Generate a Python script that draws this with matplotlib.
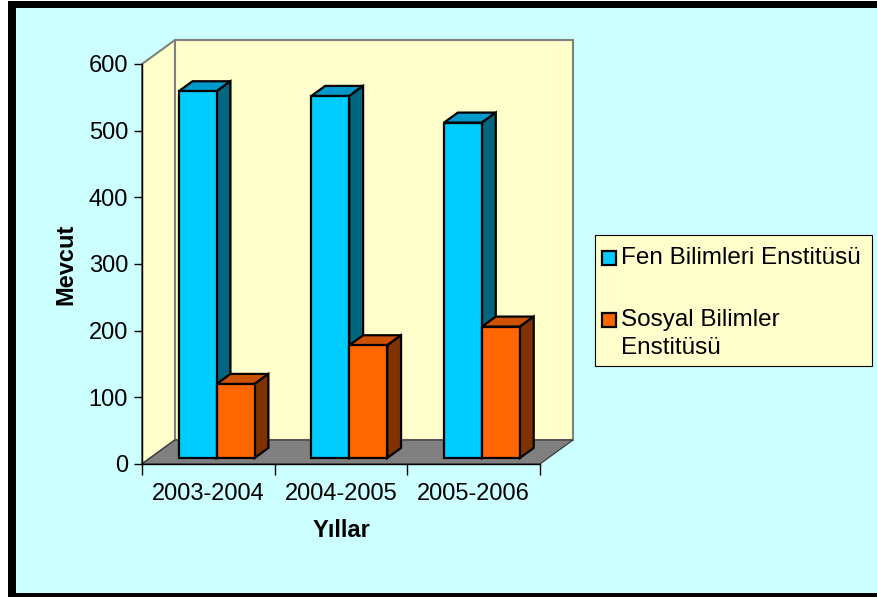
import numpy as np
import matplotlib
matplotlib.use('Agg')
import matplotlib.pyplot as plt
from matplotlib.patches import Polygon, Rectangle

plt.rcParams['font.family'] = ['Liberation Sans', 'DejaVu Sans']

# data
years = ['2003-2004', '2004-2005', '2005-2006']
series_names = ['Fen Bilimleri Enstitüsü', 'Sosyal Bilimler\nEnstitüsü']
fen = [550, 543, 503]
sosyal = [111, 169, 197]
y_ticks = [0, 100, 200, 300, 400, 500, 600]

# front / top / side colours per series
face_cols = [('#00CCFF', '#0099CC', '#006680'),
             ('#FF6600', '#CC5200', '#803300')]

W, H = 877, 597
fs = 17
fig = plt.figure(figsize=(W / 100, H / 100), dpi=100)
fig.patch.set_facecolor('white')


def fx(px):
    return px / W


def fy(py):
    return 1 - py / H


# frame of the chart area
fig.patches.append(Rectangle((fx(8), fy(597)), fx(W + 10) - fx(8), fy(1) - fy(597),
                             transform=fig.transFigure, facecolor='black', edgecolor='none', zorder=-3))
fig.patches.append(Rectangle((fx(16), fy(593)), fx(W + 10) - fx(16), fy(8) - fy(593),
                             transform=fig.transFigure, facecolor='#CCFFFF', edgecolor='none', zorder=-2))

# front plane of the 3d box
ax = fig.add_axes([fx(142), fy(464), fx(540) - fx(142), fy(64) - fy(464)])
ax.set_zorder(1)
ax.set_xlim(0, 3)
ax.set_ylim(0, 600)
ax.patch.set_visible(False)
for s in ax.spines.values():
    s.set_visible(False)

DX = 33 / 132.7     # depth offset in category units
DY = 36             # depth offset in value units
xmax, ymax = 3, 600

# walls and floor
side = Polygon([(0, 0), (0, ymax), (DX, ymax + DY), (DX, DY)], closed=True,
               facecolor='#FFFFCC', edgecolor='#808080', lw=1.5, clip_on=False, zorder=1)
back = Polygon([(DX, DY), (DX, ymax + DY), (xmax + DX, ymax + DY), (xmax + DX, DY)], closed=True,
               facecolor='#FFFFCC', edgecolor='#808080', lw=1.5, clip_on=False, zorder=1)
floor = Polygon([(0, 0), (xmax, 0), (xmax + DX, DY), (DX, DY)], closed=True,
                facecolor='#808080', edgecolor='#333333', lw=0.8, clip_on=False, zorder=1.5)
for p in (side, back, floor):
    ax.add_patch(p)

# bars
w = 0.286
f0 = 0.25
fd = 0.42
for j, vals in enumerate([fen, sosyal]):
    front_c, top_c, side_c = face_cols[j]
    for i, v in enumerate(vals):
        x0 = i + 0.5 - w + j * w + f0 * DX
        y0 = f0 * DY
        z = 3 + j
        ax.bar(x0, v, width=w, bottom=y0, align='edge', color=front_c,
               edgecolor='black', linewidth=1.6, zorder=z + 0.5, clip_on=False)
        top = Polygon([(x0, y0 + v), (x0 + w, y0 + v),
                       (x0 + w + fd * DX, y0 + v + fd * DY), (x0 + fd * DX, y0 + v + fd * DY)],
                      closed=True, facecolor=top_c, edgecolor='black', lw=1.6, zorder=z, clip_on=False)
        sd = Polygon([(x0 + w, y0), (x0 + w + fd * DX, y0 + fd * DY),
                      (x0 + w + fd * DX, y0 + v + fd * DY), (x0 + w, y0 + v)],
                     closed=True, facecolor=side_c, edgecolor='black', lw=1.6, zorder=z, clip_on=False)
        ax.add_patch(top)
        ax.add_patch(sd)

# axis lines
ax.plot([0, 0], [0, ymax], color='black', lw=1, zorder=6, clip_on=False)
ax.plot([0, xmax], [0, 0], color='black', lw=1, zorder=6, clip_on=False)

ax.set_yticks(y_ticks)
ax.set_yticklabels([str(t) for t in y_ticks], fontsize=fs)
ax.set_xticks([0, 1, 2, 3])
ax.set_xticklabels([])
ax.set_xticks([0.5, 1.5, 2.5], minor=True)
ax.set_xticklabels(years, minor=True, fontsize=fs)
ax.tick_params(axis='y', length=6, width=1, pad=4, colors='black')
ax.tick_params(axis='x', which='major', length=8, width=1, direction='out')
ax.tick_params(axis='x', which='minor', length=0, pad=14)

ax.set_ylabel('Mevcut', fontsize=fs, fontweight='bold', labelpad=8)
ax.set_xlabel('Yıllar', fontsize=fs, fontweight='bold', labelpad=10)

# legend box
fig.patches.append(Rectangle((fx(595), fy(366)), fx(872) - fx(595), fy(235) - fy(366),
                             transform=fig.transFigure, facecolor='#FFFFCC', edgecolor='black',
                             lw=0.8, zorder=2))
leg_y = [258, 320]
for j, name in enumerate(series_names):
    fig.patches.append(Rectangle((fx(602), fy(leg_y[j] + 7)), fx(616) - fx(602), fy(leg_y[j] - 7) - fy(leg_y[j] + 7),
                                 transform=fig.transFigure, facecolor=face_cols[j][0],
                                 edgecolor='black', lw=1.6, zorder=3))
    fig.text(fx(621), fy(leg_y[j] - 11), name, fontsize=17.5, va='top', ha='left',
             linespacing=1.35, zorder=3)

fig.savefig('out.png', dpi=100, facecolor=fig.get_facecolor())
